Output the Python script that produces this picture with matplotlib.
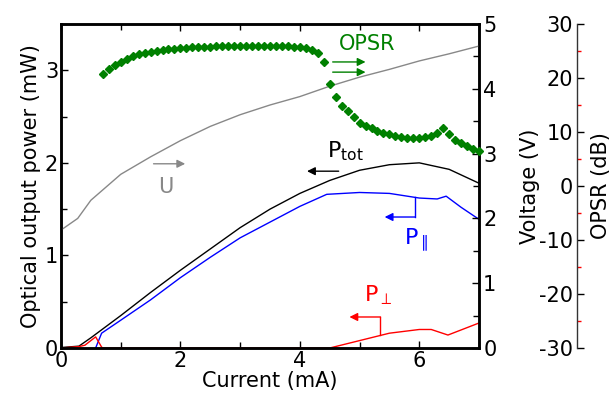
import numpy as np
import matplotlib
matplotlib.use("Agg")
import matplotlib.pyplot as plt
from matplotlib.ticker import MultipleLocator

plt.rcParams['font.family'] = ['DejaVu Sans']
plt.rcParams['mathtext.fontset'] = 'dejavusans'
plt.rcParams['axes.unicode_minus'] = False
plt.rcParams['font.size'] = 15

# ---- data ----
# total optical power (mW)
i_tot = [0.0, 0.3, 0.5, 1.0, 1.5, 2.0, 2.5, 3.0, 3.5, 4.0, 4.5, 5.0, 5.5, 6.0, 6.5, 7.0]
p_tot = [0.005, 0.02, 0.11, 0.35, 0.6, 0.84, 1.07, 1.3, 1.5, 1.67, 1.81, 1.92, 1.98, 2.0, 1.93, 1.78]

# parallel polarisation (mW)
i_par = [0.58, 0.68, 1.0, 1.5, 2.0, 2.5, 3.0, 3.5, 4.0, 4.45, 5.0, 5.5, 6.0, 6.3, 6.45, 6.7, 7.0]
p_par = [0.0, 0.16, 0.3, 0.52, 0.76, 0.98, 1.19, 1.36, 1.53, 1.66, 1.68, 1.67, 1.62, 1.61, 1.64, 1.52, 1.39]

# perpendicular polarisation (mW)
i_perp = [0.0, 0.3, 0.4, 0.58, 0.68, 0.7, 4.5, 5.0, 5.5, 6.0, 6.2, 6.48, 7.0]
p_perp = [0.0, 0.015, 0.03, 0.12, 0.01, 0.0, 0.0, 0.08, 0.16, 0.2, 0.2, 0.14, 0.27]

# voltage (V)
i_u = [0.0, 0.28, 0.5, 1.0, 1.5, 2.0, 2.5, 3.0, 3.5, 4.0, 4.5, 5.0, 5.5, 6.0, 6.5, 7.0]
u = [1.82, 2.0, 2.28, 2.68, 2.95, 3.2, 3.42, 3.6, 3.75, 3.88, 4.04, 4.18, 4.3, 4.43, 4.54, 4.66]

# OPSR (dB), one point every 0.1 mA from 0.7 mA
i_opsr = np.round(np.arange(0.7, 7.01, 0.1), 2)
opsr = [20.7, 21.7, 22.4, 23.0, 23.5, 24.0, 24.4, 24.6, 24.8, 25.0,
        25.2, 25.3, 25.4, 25.5, 25.6, 25.7, 25.7, 25.8, 25.8, 25.9,
        25.9, 25.9, 26.0, 26.0, 26.0, 26.0, 26.0, 26.0, 26.0, 25.9,
        25.9, 25.9, 25.8, 25.8, 25.5, 25.1, 24.6, 22.9, 18.8, 16.4,
        14.8, 13.8, 12.7, 11.7, 11.1, 10.7, 10.2, 9.9, 9.6, 9.3,
        9.1, 8.9, 8.9, 8.9, 9.0, 9.3, 9.8, 10.7, 9.6, 8.6,
        8.0, 7.5, 6.9, 6.4]

# ---- figure ----
fig = plt.figure(figsize=(6.14, 4.0), dpi=100)
pos = [61/614, 1 - 348/400, (479 - 61)/614, (348 - 24)/400]
ax = fig.add_axes(pos)

ax.plot(i_tot, p_tot, color='black', lw=1)
ax.plot(i_par, p_par, color='blue', lw=1)
ax.plot(i_perp, p_perp, color='red', lw=1)
ax.set_xlim(0, 7)
ax.set_ylim(0, 3.5)
ax.xaxis.set_major_locator(MultipleLocator(2))
ax.xaxis.set_minor_locator(MultipleLocator(1))
ax.yaxis.set_major_locator(MultipleLocator(1))
ax.yaxis.set_minor_locator(MultipleLocator(0.5))
ax.tick_params(which='both', direction='in', top=True, right=False, width=1)
ax.tick_params(which='major', length=5, pad=2)
ax.tick_params(which='minor', length=4)
ax.set_xlabel('Current (mA)', labelpad=0)
ax.set_ylabel('Optical output power (mW)', labelpad=3)
for s in ax.spines.values():
    s.set_linewidth(1.8)

# voltage axis
axv = ax.twinx()
axv.plot(i_u, u, color='#888888', lw=1)
axv.set_ylim(0, 5)
axv.yaxis.set_major_locator(MultipleLocator(1))
axv.yaxis.set_minor_locator(MultipleLocator(0.5))
axv.tick_params(which='both', direction='in', width=1)
axv.tick_params(which='major', length=5, pad=3)
axv.tick_params(which='minor', length=4)
axv.set_ylabel('Voltage (V)')
axv.yaxis.set_label_coords((520 - 61)/418, 0.5)
for s in axv.spines.values():
    s.set_linewidth(1.8)

# OPSR axis (free-standing spine)
axo = fig.add_axes(pos)
axo.patch.set_visible(False)
for side in ('top', 'right', 'bottom'):
    axo.spines[side].set_visible(False)
axo.plot(i_opsr, opsr, linestyle='none', marker='D', markersize=4.2,
         color='#008000', clip_on=False)
axo.set_xlim(0, 7)
axo.set_ylim(-30, 30)
axo.set_xticks([])
axo.spines['left'].set_position(('axes', (577 - 61)/418))
axo.spines['left'].set_linewidth(1)
axo.spines['left'].set_color('#333333')
axo.yaxis.set_major_locator(MultipleLocator(10))
axo.yaxis.set_minor_locator(MultipleLocator(5))
axo.tick_params(axis='y', which='both', direction='in', left=True, right=False, width=1)
axo.tick_params(axis='y', which='major', length=5, pad=3)
axo.tick_params(axis='y', which='minor', length=3, color='red')
axo.set_ylabel('OPSR (dB)')
axo.yaxis.set_label_coords((611 - 61)/418, 0.5)

# ---- annotations ----
arr = dict(arrowstyle='-|>', lw=1, mutation_scale=12, shrinkA=0, shrinkB=0)
green = '#008000'

ax.text(5.12, 3.28, 'OPSR', color=green, ha='center', va='center', fontsize=15)
for yy in (3.09, 2.98):
    ax.annotate('', xy=(5.1, yy), xytext=(4.55, yy), arrowprops=dict(arr, color=green))

ax.text(1.75, 1.74, 'U', color='#888888', ha='center', va='center', fontsize=15)
ax.annotate('', xy=(2.08, 1.99), xytext=(1.55, 1.99), arrowprops=dict(arr, color='#888888'))

ax.text(4.77, 2.13, r'$\mathrm{P_{tot}}$', color='black', ha='center', va='center', fontsize=16)
ax.annotate('', xy=(4.12, 1.91), xytext=(4.65, 1.91), arrowprops=dict(arr, color='black'))

ax.text(5.95, 1.16, r'$\mathrm{P}_{\parallel}$', color='blue', ha='center', va='center', fontsize=16)
ax.plot([5.93, 5.93], [1.63, 1.415], color='blue', lw=1)
ax.annotate('', xy=(5.42, 1.415), xytext=(5.93, 1.415), arrowprops=dict(arr, color='blue'))

ax.text(5.32, 0.57, r'$\mathrm{P}_{\perp}$', color='red', ha='center', va='center', fontsize=16)
ax.plot([5.35, 5.35], [0.14, 0.335], color='red', lw=1)
ax.annotate('', xy=(4.83, 0.335), xytext=(5.35, 0.335), arrowprops=dict(arr, color='red'))

fig.savefig('out.png', dpi=100)
